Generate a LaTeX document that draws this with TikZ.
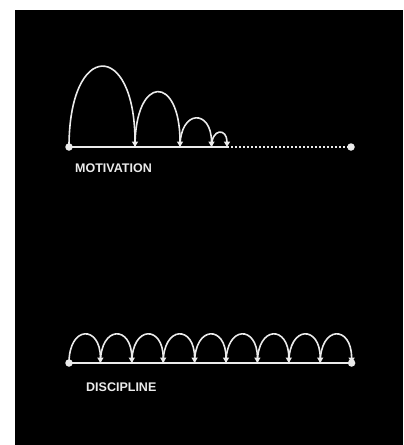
\documentclass[tikz,border=0pt]{standalone}
\usepackage{fontspec}
\setsansfont{Liberation Sans}
\usetikzlibrary{arrows.meta}
\definecolor{chalk}{gray}{0.92}
\tikzset{
  dotmark/.style={circle, fill=chalk, inner sep=0pt, minimum size=7.5pt},
  hop/.style={draw=chalk, line width=1.6pt, -{Triangle[length=5.5pt, width=6pt]}},
  track/.style={draw=chalk, line width=1.8pt},
  tracklater/.style={draw=chalk, line width=1.5pt, dash pattern=on 1.5pt off 2.5pt},
  caption/.style={font=\sffamily\bfseries\fontsize{12.5}{12.5}\selectfont, text=chalk,
    inner sep=0pt, anchor=base west},
}

\begin{document}
\begin{tikzpicture}[x=1pt, y=-1pt]
  % frame
  \fill[white] (0,0) rectangle (404,445);
  \fill[black] (15,10) rectangle (403,445);
  \useasboundingbox (0,0) rectangle (404,445);

  % motivation: hops get shorter and stop
  \node[dotmark] (m0) at (69,147) {};
  \coordinate (m1) at (135,147);
  \coordinate (m2) at (180,147);
  \coordinate (m3) at (211.5,147);
  \coordinate (m4) at (227,147);
  \node[dotmark] (mend) at (351,147) {};
  \draw[track] (m0.center) -- (m4);
  \draw[tracklater] (m4) -- (mend.center);
  \draw[hop] (m0.center) .. controls +(0,-107) and +(0,-107) .. (m1);
  \draw[hop] (m1) .. controls +(0,-73) and +(0,-73) .. (m2);
  \draw[hop] (m2) .. controls +(0,-38) and +(0,-38) .. (m3);
  \draw[hop] (m3) .. controls +(0,-19) and +(0,-19) .. (m4);
  \node[caption] (mtext) at (75,172.5) {MOTIVATION};

  % discipline: same small hop, again and again
  \node[dotmark] (d0) at (69,363) {};
  \foreach \i in {1,...,8}
    \coordinate (d\i) at (69+31.4*\i,363);
  \node[dotmark] (d9) at (351.6,363) {};
  \draw[track] (d0.center) -- (d9.center);
  \draw[hop] (d0.center) .. controls +(0,-38) and +(0,-38) .. (d1);
  \foreach \i [evaluate=\i as \j using int(\i+1)] in {1,...,7}
    \draw[hop] (d\i) .. controls +(0,-38) and +(0,-38) .. (d\j);
  \draw[hop] (d8) .. controls +(0,-38) and +(0,-38) .. (d9.center);
  \node[caption] (dtext) at (86,391) {DISCIPLINE};
\end{tikzpicture}
\end{document}
